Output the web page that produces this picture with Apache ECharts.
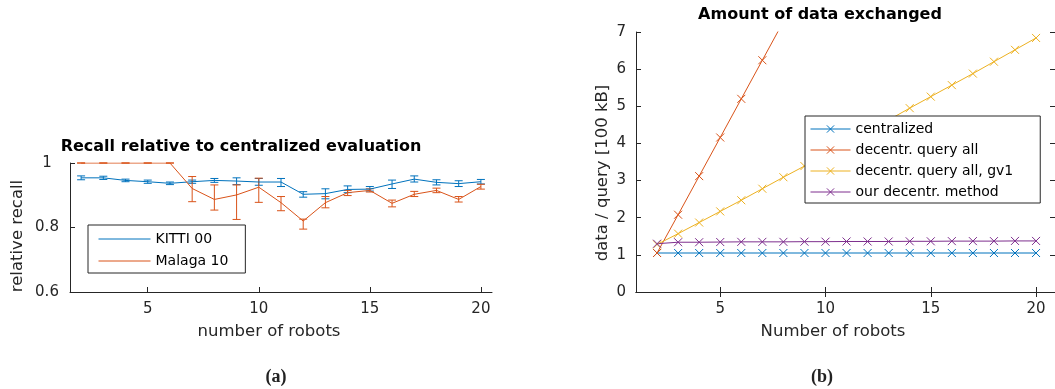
<!DOCTYPE html>
<html>
<head>
<meta charset="utf-8">
<script src="https://cdn.jsdelivr.net/npm/echarts@6/dist/echarts.min.js"></script>
<style>
  html, body { margin: 0; padding: 0; background: #ffffff; }
  #chart { width: 1055px; height: 389px; }
</style>
</head>
<body>
<div id="chart"></div>
<script>
// Number of robots on both x axes
const robots = [2, 3, 4, 5, 6, 7, 8, 9, 10, 11, 12, 13, 14, 15, 16, 17, 18, 19, 20];
const robotTicks = [5, 10, 15, 20];

// (a) relative recall with error bar bounds
const kittiRecall = [0.954, 0.954, 0.946, 0.942, 0.937, 0.942, 0.946, 0.944, 0.941, 0.941, 0.903, 0.905, 0.918, 0.919, 0.935, 0.950, 0.940, 0.936, 0.942];
const kittiLow    = [0.948, 0.949, 0.942, 0.937, 0.933, 0.937, 0.940, 0.933, 0.931, 0.927, 0.894, 0.889, 0.908, 0.913, 0.921, 0.941, 0.932, 0.927, 0.935];
const kittiHigh   = [0.960, 0.959, 0.950, 0.947, 0.941, 0.947, 0.952, 0.954, 0.952, 0.952, 0.911, 0.920, 0.929, 0.927, 0.947, 0.960, 0.948, 0.945, 0.949];
const malagaRecall = [1.000, 1.000, 1.000, 1.000, 1.000, 0.921, 0.887, 0.901, 0.925, 0.877, 0.820, 0.877, 0.908, 0.915, 0.875, 0.903, 0.915, 0.887, 0.927];
const malagaLow    = [1.000, 1.000, 1.000, 1.000, 1.000, 0.880, 0.854, 0.825, 0.878, 0.852, 0.795, 0.861, 0.899, 0.910, 0.864, 0.896, 0.908, 0.879, 0.919];
const malagaHigh   = [1.000, 1.000, 1.000, 1.000, 1.000, 0.958, 0.932, 0.932, 0.953, 0.896, 0.826, 0.896, 0.915, 0.920, 0.885, 0.912, 0.922, 0.896, 0.934];
const recallTicks = [0.6, 0.8, 1];

// (b) data per query in units of 100 kB
const centralized        = [1.05, 1.05, 1.05, 1.05, 1.05, 1.05, 1.05, 1.05, 1.05, 1.05, 1.05, 1.05, 1.05, 1.05, 1.05, 1.05, 1.05, 1.05, 1.05];
const decentrQueryAll    = [1.05, 2.08, 3.12, 4.16, 5.20, 6.24, 7.28, 8.32, 9.36, 10.40, 11.44, 12.48, 13.52, 14.56, 15.60, 16.64, 17.68, 18.72, 19.76];
const decentrQueryAllGv1 = [1.28, 1.57, 1.87, 2.17, 2.47, 2.78, 3.09, 3.39, 3.70, 4.01, 4.32, 4.63, 4.95, 5.26, 5.57, 5.88, 6.20, 6.52, 6.84];
const ourDecentrMethod   = [1.30, 1.34, 1.34, 1.345, 1.35, 1.35, 1.35, 1.355, 1.355, 1.36, 1.36, 1.36, 1.365, 1.365, 1.37, 1.37, 1.37, 1.375, 1.375];

const BLUE = '#0072BD', ORANGE = '#D95319', YELLOW = '#EDB120', PURPLE = '#7E2F8E';
const AXIS = '#262626';
const FONT = 'DejaVu Sans';
const CROSS = 'path://M0,0L10,10M10,0L0,10';

const pairs = ys => robots.map((r, i) => [r, ys[i]]);
const bounds = (lo, hi) => robots.map((r, i) => [r, lo[i], hi[i]]);

function errorBars(color) {
  return function (params, api) {
    const x = api.value(0);
    const lo = api.coord([x, api.value(1)]);
    const hi = api.coord([x, api.value(2)]);
    const w = 4;
    const style = { stroke: color, lineWidth: 1, fill: null };
    return {
      type: 'group',
      children: [
        { type: 'line', shape: { x1: lo[0], y1: lo[1], x2: hi[0], y2: hi[1] }, style },
        { type: 'line', shape: { x1: lo[0] - w, y1: lo[1], x2: lo[0] + w, y2: lo[1] }, style },
        { type: 'line', shape: { x1: hi[0] - w, y1: hi[1], x2: hi[0] + w, y2: hi[1] }, style }
      ]
    };
  };
}

function valueAxis(extra) {
  return Object.assign({
    type: 'value',
    splitLine: { show: false },
    axisLine: { show: true, lineStyle: { color: AXIS, width: 1 } },
    axisTick: { show: true, inside: true, length: 5, lineStyle: { color: AXIS } },
    axisLabel: { color: AXIS, fontFamily: FONT, fontSize: 15 }
  }, extra);
}

function crossSeries(name, color, ys) {
  return {
    type: 'line', name, xAxisIndex: 1, yAxisIndex: 1,
    data: pairs(ys), color,
    symbol: CROSS, symbolSize: 8, showAllSymbol: true, clip: true,
    lineStyle: { width: 1, color },
    itemStyle: { color, borderColor: color, borderWidth: 1 },
    emphasis: { disabled: true }
  };
}

const chart = echarts.init(document.getElementById('chart'), null, { renderer: 'canvas' });

chart.setOption({
  animation: false,
  backgroundColor: '#ffffff',
  grid: [
    { left: 70, top: 163, width: 422, height: 129 },
    { left: 636, top: 32, width: 420, height: 260 }
  ],
  xAxis: [
    valueAxis({
      gridIndex: 0, min: 1.5, max: 20.5,
      axisTick: { show: true, inside: true, length: 5, lineStyle: { color: AXIS }, customValues: robotTicks },
      axisLabel: { color: AXIS, fontFamily: FONT, fontSize: 15, margin: 10, customValues: robotTicks }
    }),
    valueAxis({
      gridIndex: 1, min: 1, max: 20.9,
      axisTick: { show: true, inside: true, length: 5, lineStyle: { color: AXIS }, customValues: robotTicks },
      axisLabel: { color: AXIS, fontFamily: FONT, fontSize: 15, margin: 10, customValues: robotTicks }
    }),
    valueAxis({
      gridIndex: 1, min: 1, max: 20.9, position: 'top',
      axisTick: { show: true, inside: true, length: 5, lineStyle: { color: AXIS }, customValues: robotTicks },
      axisLabel: { show: false }
    })
  ],
  yAxis: [
    valueAxis({
      gridIndex: 0, min: 0.6, max: 1,
      axisTick: { show: true, inside: true, length: 5, lineStyle: { color: AXIS }, customValues: recallTicks },
      axisLabel: { color: AXIS, fontFamily: FONT, fontSize: 15, margin: 23, align: 'center', customValues: recallTicks }
    }),
    valueAxis({
      gridIndex: 1, min: 0, max: 7, interval: 1,
      axisLabel: { color: AXIS, fontFamily: FONT, fontSize: 15, margin: 10 }
    }),
    valueAxis({
      gridIndex: 1, min: 0, max: 7, interval: 1, position: 'right',
      axisLabel: { show: false }
    })
  ],
  legend: [
    {
      data: ['KITTI 00', 'Malaga 10'],
      orient: 'vertical', left: 88, top: 225,
      itemWidth: 52, itemHeight: 14, itemGap: 8,
      padding: [7, 17, 5, 10],
      borderColor: AXIS, borderWidth: 1, borderRadius: 0, backgroundColor: '#ffffff',
      selectedMode: false,
      itemStyle: { opacity: 0 },
      lineStyle: { width: 1 },
      textStyle: { fontFamily: FONT, fontSize: 14, color: '#000000', lineHeight: 14 }
    },
    {
      data: ['centralized', 'decentr. query all', 'decentr. query all, gv1', 'our decentr. method'],
      orient: 'vertical', left: 805, top: 116,
      itemWidth: 40, itemHeight: 9, itemGap: 7,
      padding: [6, 27, 4, 5],
      borderColor: AXIS, borderWidth: 1, borderRadius: 0, backgroundColor: '#ffffff',
      selectedMode: false,
      itemStyle: { borderWidth: 1 },
      lineStyle: { width: 1 },
      textStyle: { fontFamily: FONT, fontSize: 14, color: '#000000', lineHeight: 14 }
    }
  ],
  series: [
    {
      type: 'line', name: 'KITTI 00', xAxisIndex: 0, yAxisIndex: 0,
      data: pairs(kittiRecall), color: BLUE, symbol: 'circle', showSymbol: false,
      lineStyle: { width: 1, color: BLUE }, emphasis: { disabled: true }
    },
    {
      type: 'line', name: 'Malaga 10', xAxisIndex: 0, yAxisIndex: 0,
      data: pairs(malagaRecall), color: ORANGE, symbol: 'circle', showSymbol: false,
      lineStyle: { width: 1, color: ORANGE }, emphasis: { disabled: true }
    },
    {
      type: 'custom', name: 'KITTI 00', xAxisIndex: 0, yAxisIndex: 0,
      data: bounds(kittiLow, kittiHigh), encode: { x: 0, y: [1, 2] },
      renderItem: errorBars(BLUE), silent: true
    },
    {
      type: 'custom', name: 'Malaga 10', xAxisIndex: 0, yAxisIndex: 0,
      data: bounds(malagaLow, malagaHigh), encode: { x: 0, y: [1, 2] },
      renderItem: errorBars(ORANGE), silent: true
    },
    crossSeries('centralized', BLUE, centralized),
    crossSeries('decentr. query all', ORANGE, decentrQueryAll),
    crossSeries('decentr. query all, gv1', YELLOW, decentrQueryAllGv1),
    crossSeries('our decentr. method', PURPLE, ourDecentrMethod)
  ],
  graphic: [
    { type: 'text', x: 241, y: 147, style: { text: 'Recall relative to centralized evaluation', align: 'center', verticalAlign: 'middle', font: 'bold 16px "DejaVu Sans"', fill: '#000' } },
    { type: 'text', x: 820, y: 15, style: { text: 'Amount of data exchanged', align: 'center', verticalAlign: 'middle', font: 'bold 16px "DejaVu Sans"', fill: '#000' } },
    { type: 'text', x: 18, y: 236, rotation: Math.PI / 2, style: { text: 'relative recall', align: 'center', verticalAlign: 'middle', font: '16.5px "DejaVu Sans"', fill: AXIS } },
    { type: 'text', x: 603, y: 173, rotation: Math.PI / 2, style: { text: 'data / query [100 kB]', align: 'center', verticalAlign: 'middle', font: '16.5px "DejaVu Sans"', fill: AXIS } },
    { type: 'text', x: 269, y: 332, style: { text: 'number of robots', align: 'center', verticalAlign: 'middle', font: '16.5px "DejaVu Sans"', fill: AXIS } },
    { type: 'text', x: 833, y: 332, style: { text: 'Number of robots', align: 'center', verticalAlign: 'middle', font: '16.5px "DejaVu Sans"', fill: AXIS } },
    { type: 'text', x: 276, y: 377, style: { text: '(a)', align: 'center', verticalAlign: 'middle', font: 'bold 18px "Liberation Serif"', fill: '#222' } },
    { type: 'text', x: 822, y: 377, style: { text: '(b)', align: 'center', verticalAlign: 'middle', font: 'bold 18px "Liberation Serif"', fill: '#222' } }
  ]
});
</script>
</body>
</html>
